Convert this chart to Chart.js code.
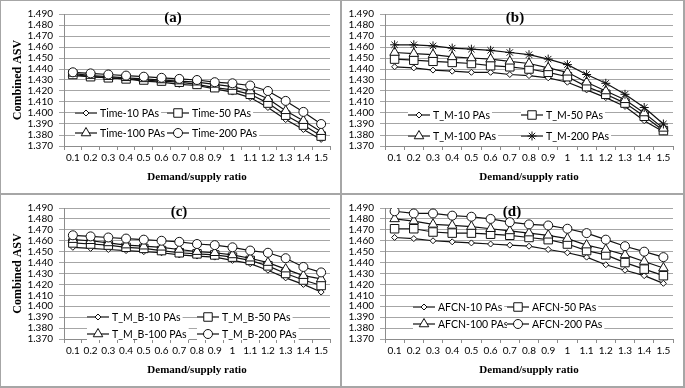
<!DOCTYPE html>
<html>
<head>
<meta charset="utf-8">
<script src="https://cdn.jsdelivr.net/npm/chart.js@4.4.0/dist/chart.umd.min.js"></script>
<style>
body { margin: 0; background: #fff; }
#wrap { position: relative; width: 685px; height: 388px; background: #fff; }
.panel { position: absolute; }
.ln { position: absolute; background: #a6a6a6; }
</style>
</head>
<body>
<div id="wrap">
  <div class="panel" style="left:1px;top:1px;width:339px;height:192px"><canvas id="chartA"></canvas></div>
  <div class="panel" style="left:342px;top:1px;width:341px;height:192px"><canvas id="chartB"></canvas></div>
  <div class="panel" style="left:1px;top:195px;width:339px;height:191px"><canvas id="chartC"></canvas></div>
  <div class="panel" style="left:342px;top:195px;width:341px;height:191px"><canvas id="chartD"></canvas></div>
  <div class="ln" style="left:0;top:0;width:685px;height:1px"></div>
  <div class="ln" style="left:0;top:0;width:1px;height:388px"></div>
  <div class="ln" style="left:683px;top:0;width:2px;height:388px"></div>
  <div class="ln" style="left:0;top:386px;width:685px;height:2px"></div>
  <div class="ln" style="left:340px;top:0;width:2px;height:388px"></div>
  <div class="ln" style="left:0;top:193px;width:685px;height:2px"></div>
</div>
<script>
// x categories (demand/supply ratio)
const ratios = ['0.1', '0.2', '0.3', '0.4', '0.5', '0.6', '0.7', '0.8', '0.9', '1', '1.1', '1.2', '1.3', '1.4', '1.5'];
const yMin = 1.37, yMax = 1.49, yStep = 0.01;

// (a) Time
const time10  = [1.434, 1.433, 1.432, 1.431, 1.429, 1.428, 1.426, 1.425, 1.422, 1.419, 1.414, 1.405, 1.394, 1.385, 1.376];
const time50  = [1.435, 1.433, 1.432, 1.431, 1.430, 1.429, 1.428, 1.426, 1.423, 1.421, 1.417, 1.409, 1.398, 1.389, 1.379];
const time100 = [1.436, 1.434, 1.433, 1.432, 1.431, 1.430, 1.429, 1.428, 1.426, 1.424, 1.420, 1.413, 1.402, 1.393, 1.383];
const time200 = [1.437, 1.436, 1.435, 1.434, 1.433, 1.432, 1.431, 1.430, 1.428, 1.427, 1.425, 1.420, 1.411, 1.401, 1.390];

// (b) T_M
const tm10  = [1.442, 1.441, 1.439, 1.438, 1.437, 1.437, 1.435, 1.434, 1.432, 1.428, 1.421, 1.414, 1.406, 1.393, 1.383];
const tm50  = [1.449, 1.448, 1.447, 1.446, 1.445, 1.443, 1.442, 1.440, 1.437, 1.433, 1.424, 1.417, 1.409, 1.397, 1.384];
const tm100 = [1.455, 1.454, 1.453, 1.451, 1.450, 1.449, 1.447, 1.445, 1.441, 1.437, 1.428, 1.420, 1.412, 1.400, 1.386];
const tm200 = [1.462, 1.462, 1.461, 1.459, 1.458, 1.457, 1.455, 1.453, 1.449, 1.444, 1.435, 1.427, 1.417, 1.405, 1.390];

// (c) T_M_B
const tmb10  = [1.454, 1.453, 1.452, 1.451, 1.450, 1.449, 1.447, 1.446, 1.445, 1.442, 1.439, 1.433, 1.426, 1.420, 1.413];
const tmb50  = [1.458, 1.457, 1.456, 1.454, 1.453, 1.451, 1.449, 1.448, 1.447, 1.445, 1.442, 1.437, 1.430, 1.424, 1.419];
const tmb100 = [1.461, 1.460, 1.458, 1.456, 1.455, 1.454, 1.452, 1.450, 1.449, 1.447, 1.444, 1.440, 1.434, 1.428, 1.425];
const tmb200 = [1.465, 1.464, 1.463, 1.462, 1.461, 1.460, 1.459, 1.457, 1.456, 1.454, 1.451, 1.449, 1.444, 1.436, 1.431];

// (d) AFCN
const afcn10  = [1.463, 1.462, 1.460, 1.459, 1.458, 1.457, 1.456, 1.455, 1.452, 1.449, 1.445, 1.438, 1.433, 1.428, 1.421];
const afcn50  = [1.471, 1.471, 1.468, 1.467, 1.467, 1.466, 1.465, 1.463, 1.461, 1.457, 1.451, 1.447, 1.440, 1.434, 1.428];
const afcn100 = [1.480, 1.478, 1.475, 1.474, 1.473, 1.471, 1.469, 1.467, 1.465, 1.462, 1.456, 1.452, 1.447, 1.441, 1.435];
const afcn200 = [1.487, 1.485, 1.485, 1.483, 1.482, 1.480, 1.477, 1.475, 1.474, 1.471, 1.467, 1.461, 1.455, 1.450, 1.445];

const markers = [
    { style: 'rectRot', r: 3 },
    { style: 'rect', r: 6 },
    { style: 'triangle', r: 5.5 },
    { style: 'circle', r: 4.5 }
];

function makeDataset(label, values, i, lastStyle) {
    const m = markers[i];
    return {
        label: label,
        data: values,
        borderColor: '#111',
        borderWidth: 1.2,
        pointStyle: (i === 3 && lastStyle) ? lastStyle : m.style,
        pointRadius: (i === 3 && lastStyle) ? 4.5 : m.r,
        pointBackgroundColor: '#fff',
        pointBorderColor: '#111',
        pointBorderWidth: 1,
        tension: 0,
        order: 3 - i
    };
}

// legend drawn inside the plot, two columns by two rows
const insideLegend = {
    id: 'insideLegend',
    afterDatasetsDraw(chart, args, opts) {
        const { ctx, chartArea } = chart;
        ctx.save();
        ctx.font = '10.5px Lato';
        ctx.textBaseline = 'middle';
        chart.data.datasets.forEach((ds, i) => {
            const x = chartArea.left + opts.cols[i % 2];
            const y = chartArea.bottom + opts.rows[Math.floor(i / 2)];
            const tw = ctx.measureText(ds.label).width;
            ctx.fillStyle = '#fff';
            ctx.fillRect(x, y - 6, 25 + tw + 2, 12);
            ctx.strokeStyle = '#111';
            ctx.lineWidth = 1.2;
            ctx.beginPath();
            ctx.moveTo(x, y);
            ctx.lineTo(x + 22, y);
            ctx.stroke();
            ctx.fillStyle = '#fff';
            ctx.lineWidth = 1;
            Chart.helpers.drawPoint(ctx, { pointStyle: ds.pointStyle, radius: ds.pointRadius, borderWidth: 1 }, x + 11, y);
            ctx.fillStyle = '#000';
            ctx.fillText(ds.label, x + 25, y + 0.5);
        });
        // panel letter
        ctx.font = 'bold 15px "Liberation Serif"';
        ctx.textAlign = 'center';
        ctx.fillStyle = '#000';
        ctx.fillText(opts.letter, chartArea.left + opts.letterX, chartArea.top + 4);
        ctx.restore();
    }
};

function makeChart(id, labels, series, lastStyle, yWidth, showYTitle, legendOpts) {
    const ctx = document.getElementById(id).getContext('2d');
    return new Chart(ctx, {
        type: 'line',
        data: {
            labels: ratios,
            datasets: series.map((s, i) => makeDataset(labels[i], s, i, lastStyle))
        },
        options: {
            responsive: true,
            maintainAspectRatio: false,
            animation: false,
            layout: { padding: { top: 13, right: 10, bottom: 0, left: 0 } },
            plugins: {
                legend: { display: false },
                tooltip: { enabled: false },
                insideLegend: legendOpts
            },
            scales: {
                x: {
                    offset: true,
                    afterFit: s => { s.height = 47; },
                    grid: { offset: true, drawOnChartArea: false, drawTicks: true, tickLength: 4, color: '#8c8c8c' },
                    border: { color: '#8c8c8c' },
                    ticks: { color: '#000', font: { family: 'Lato', size: 10 }, padding: 2, maxRotation: 0, autoSkip: false },
                    title: { display: true, text: 'Demand/supply ratio', color: '#000',
                        font: { family: 'Liberation Serif', size: 11, weight: 'bold' }, padding: { top: 0, bottom: 9 } }
                },
                y: {
                    min: yMin,
                    max: yMax,
                    afterFit: s => { s.width = yWidth; },
                    grid: { color: '#a6a6a6', tickLength: 5 },
                    border: { color: '#8c8c8c' },
                    ticks: { stepSize: yStep, autoSkip: false, color: '#000', font: { family: 'Lato', size: 10 }, padding: 6,
                        callback: v => v.toFixed(3) },
                    title: { display: showYTitle, text: 'Combined ASV', color: '#000',
                        font: { family: 'Liberation Serif', size: 12, weight: 'bold' }, padding: { top: 10, bottom: 0 } }
                }
            }
        },
        plugins: [insideLegend]
    });
}

makeChart('chartA', ['Time-10 PAs', 'Time-50 PAs', 'Time-100 PAs', 'Time-200 PAs'],
    [time10, time50, time100, time200], null, 63, true,
    { cols: [11, 103], rows: [-33, -13], letter: '(a)', letterX: 109 });
makeChart('chartB', ['T_M-10 PAs', 'T_M-50 PAs', 'T_M-100 PAs', 'T_M-200 PAs'],
    [tm10, tm50, tm100, tm200], 'star', 43, false,
    { cols: [23, 136], rows: [-31, -10], letter: '(b)', letterX: 130 });
makeChart('chartC', ['T_M_B-10 PAs', 'T_M_B-50 PAs', 'T_M_B-100 PAs', 'T_M_B-200 PAs'],
    [tmb10, tmb50, tmb100, tmb200], null, 63, true,
    { cols: [23, 133], rows: [-22, -5], letter: '(c)', letterX: 115 });
makeChart('chartD', ['AFCN-10 PAs', 'AFCN-50 PAs', 'AFCN-100 PAs', 'AFCN-200 PAs'],
    [afcn10, afcn50, afcn100, afcn200], null, 43, false,
    { cols: [28, 122], rows: [-32, -15], letter: '(d)', letterX: 127 });
</script>
</body>
</html>
